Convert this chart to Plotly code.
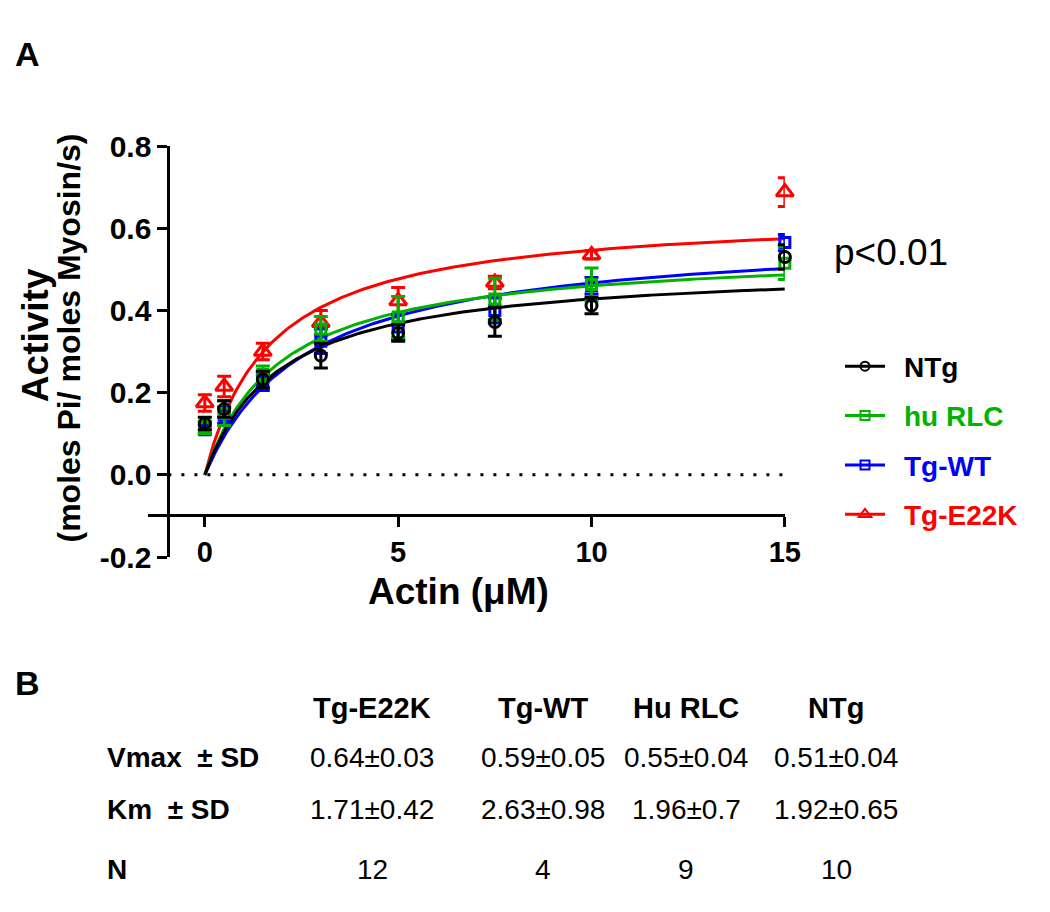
import numpy as np
import plotly.graph_objects as go

# ---------------- data ----------------
actin = [0, 0.5, 1.5, 3, 5, 7.5, 10, 15]

ntg = [0.125, 0.16, 0.232, 0.29, 0.345, 0.372, 0.412, 0.53]
ntg_err = [0.015, 0.02, 0.02, 0.03, 0.02, 0.035, 0.02, 0.03]
hurlc = [0.115, 0.15, 0.245, 0.355, 0.384, 0.428, 0.463, 0.515]
hurlc_err = [0.015, 0.03, 0.02, 0.03, 0.05, 0.05, 0.04, 0.04]
tgwt = [0.11, 0.145, 0.225, 0.325, 0.36, 0.40, 0.46, 0.565]
tgwt_err = [0.01, 0.02, 0.02, 0.03, 0.03, 0.03, 0.02, 0.02]
e22k = [0.175, 0.215, 0.30, 0.37, 0.423, 0.468, 0.535, 0.688]
e22k_err = [0.02, 0.025, 0.02, 0.03, 0.033, 0.015, 0.01, 0.035]

# table (panel B)
groups = ["Tg-E22K", "Tg-WT", "Hu RLC", "NTg"]
vmax = [0.64, 0.59, 0.55, 0.51]
vmax_sd = [0.03, 0.05, 0.04, 0.04]
km = [1.71, 2.63, 1.96, 1.92]
km_sd = [0.42, 0.98, 0.70, 0.65]
n_obs = [12, 4, 9, 10]

x_ticks = [0, 5, 10, 15]
y_ticks = [-0.2, 0.0, 0.2, 0.4, 0.6, 0.8]
y_ticktext = ["-0.2", "0.0", "0.2", "0.4", "0.6", "0.8"]

# ---------------- styling ----------------
W, H = 1050, 912
FONT = "Arial, 'Liberation Sans', sans-serif"
GREEN = "#00B300"
series = [
    # name, y, err, color, symbol, size, table index, legend rank
    ("Tg-E22K", e22k, e22k_err, "#FF0000", "triangle-up-open", 15, 0, 4),
    ("Tg-WT", tgwt, tgwt_err, "#0000FF", "square-open", 10, 1, 3),
    ("hu RLC", hurlc, hurlc_err, GREEN, "square-open", 10, 2, 2),
    ("NTg", ntg, ntg_err, "#000000", "circle-open", 11, 3, 1),
]


def px(xp):
    return xp / W


def py(yp):
    return 1 - yp / H


fig = go.Figure()

x_fit = np.linspace(0, 15, 300)
for name, y, err, color, sym, size, ti, rank in series:
    # Michaelis-Menten fitted curve from table parameters
    fig.add_trace(go.Scatter(
        x=x_fit, y=vmax[ti] * x_fit / (km[ti] + x_fit),
        mode="lines", line=dict(color=color, width=3),
        showlegend=False, hoverinfo="skip"))
for name, y, err, color, sym, size, ti, rank in series:
    fig.add_trace(go.Scatter(
        x=actin, y=y, mode="markers",
        marker=dict(symbol=sym, size=size, color=color,
                    line=dict(color=color, width=3)),
        error_y=dict(type="data", array=err, visible=True,
                     color=color, thickness=3, width=7),
        cliponaxis=False, showlegend=False))
    # legend entry
    fig.add_trace(go.Scatter(
        x=[None], y=[None], mode="lines+markers",
        name=f"\u2002<b><span style='color:{color}'>{name}</span></b>",
        marker=dict(symbol=sym, size=11 if "triangle" in sym else 9, color=color,
                    line=dict(color=color, width=2)),
        line=dict(color=color, width=3),
        legendgroup=name, legendrank=rank, showlegend=True))

# zero dotted line
fig.add_shape(type="line", xref="paper", yref="y",
              x0=px(171), x1=px(800), y0=0, y1=0,
              line=dict(color="black", width=3, dash="3px,10px"), layer="below")

fig.update_layout(
    width=W, height=H, autosize=False,
    margin=dict(l=0, r=0, t=0, b=0),
    paper_bgcolor="white", plot_bgcolor="white",
    font=dict(family=FONT, color="black"),
    xaxis=dict(domain=[px(150), px(797)], range=[(150 - 208) / 39.27, 15],
               anchor="free", position=py(517),
               showline=True, linewidth=3, linecolor="black",
               ticks="outside", ticklen=10, tickwidth=3, tickcolor="black",
               tickvals=x_ticks, tickfont=dict(size=29, weight="bold", family=FONT),
               showgrid=False, zeroline=False),
    yaxis=dict(domain=[py(561), py(134)], range=[-0.2, 0.8],
               anchor="free", position=px(171),
               showline=True, linewidth=3, linecolor="black",
               ticks="outside", ticklen=10, tickwidth=3, tickcolor="black",
               tickvals=y_ticks, ticktext=y_ticktext,
               tickfont=dict(size=30, weight="bold", family=FONT),
               showgrid=False, zeroline=False),
    legend=dict(x=px(853), y=py(337), xanchor="left", yanchor="top",
                font=dict(size=28, family=FONT), itemwidth=40,
                tracegroupgap=10, bgcolor="rgba(0,0,0,0)"),
    showlegend=True,
)

ann = []
ann.append(dict(text="<b>A</b>", x=px(28), y=py(38), font=dict(size=34)))
ann.append(dict(text="<b>B</b>", x=px(28), y=py(692), font=dict(size=34)))
ann.append(dict(text="<b>Activity</b>", x=px(36), y=py(330), textangle=-90,
                font=dict(size=37)))
ann.append(dict(text="<b>(moles Pi/ moles Myosin/s)</b>", x=px(70), y=py(333),
                textangle=-90, font=dict(size=32)))
ann.append(dict(text="<b>Actin (\u03bcM)</b>", x=px(466), y=py(597), font=dict(size=37)))
ann.append(dict(text="p<0.01", x=px(845), y=py(245), xanchor="left", font=dict(size=37)))

# panel B table
col_x = [378, 551, 697, 849]
row_y = [718, 769, 823, 885]
row_labels = ["Vmax  \u00b1 SD", "Km  \u00b1 SD", "N"]
for lab, yy in zip(row_labels, row_y[1:]):
    ann.append(dict(text=f"<b>{lab}</b>", x=px(107), y=py(yy), xanchor="left",
                    font=dict(size=28)))
for i, g in enumerate(groups):
    ann.append(dict(text=f"<b>{g}</b>", x=px(col_x[i]), y=py(row_y[0]), font=dict(size=29)))
    ann.append(dict(text=f"{vmax[i]:g}\u00b1{vmax_sd[i]:g}", x=px(col_x[i]), y=py(row_y[1]),
                    font=dict(size=28)))
    ann.append(dict(text=f"{km[i]:g}\u00b1{km_sd[i]:g}", x=px(col_x[i]), y=py(row_y[2]),
                    font=dict(size=28)))
    ann.append(dict(text=f"{n_obs[i]}", x=px(col_x[i]), y=py(row_y[3]), font=dict(size=28)))

for a in ann:
    a.setdefault("xanchor", "center")
    a.setdefault("yanchor", "middle")
    a["xref"] = "paper"
    a["yref"] = "paper"
    a["showarrow"] = False
    a["font"] = dict(family=FONT, color="black", **a["font"])
fig.update_layout(annotations=ann)

fig.write_html("out.html", config={"displayModeBar": False},
               post_script="document.body.style.margin='0';document.body.style.overflow='hidden';")
